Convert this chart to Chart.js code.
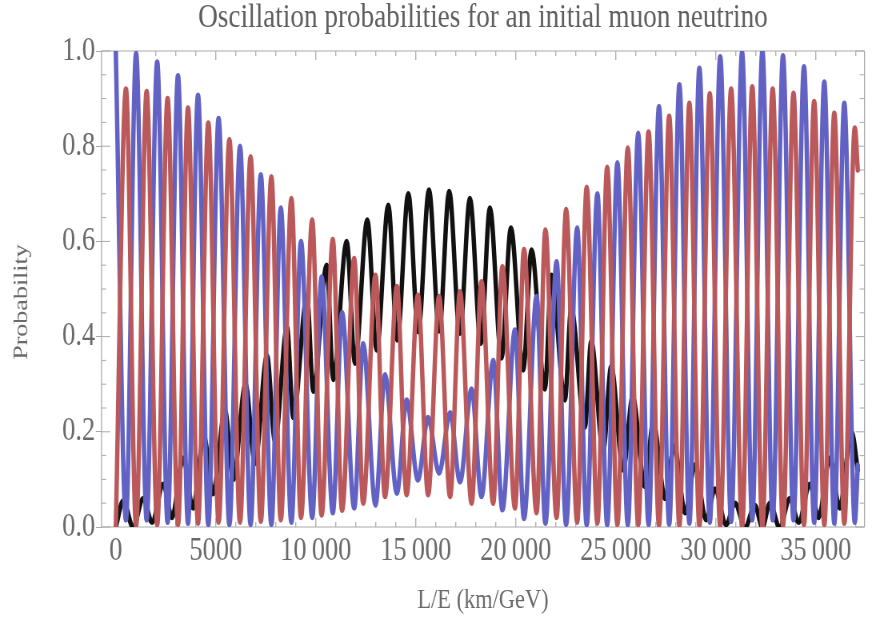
<!DOCTYPE html>
<html><head><meta charset="utf-8">
<script src="https://cdn.jsdelivr.net/npm/chart.js@4/dist/chart.umd.min.js"></script>
<style>
html,body{margin:0;padding:0;background:#fff;overflow:hidden;width:872px;height:618px;}
#wrap{position:absolute;left:0;top:0;width:1090px;height:618px;transform:scale(0.8,1);transform-origin:0 0;}
</style></head><body>
<div id="wrap"><canvas id="c" width="1090" height="618"></canvas></div>
<script>
// L/E grid (km/GeV) shared by the muon and tau curves (their peaks and troughs)
const lOverE = [0,508,1015,1543,2070,2590,3110,3610,4110,4625,5140,5680,6210,6740,7250,7780,8250,8780,9260,9820,10290,10850,11315,11920,12370,12985,13460,14055,14540,15105,15615,16165,16715,17210,17790,18285,18870,19330,19960,20410,21040,21480,22040,22515,23070,23545,24080,24570,25080,25600,26120,26640,27160,27670,28180,28680,29180,29700,30220,30768,31315,31823,32330,32845,33360,33885,34410,34918,35425,35925,36425,36950,37100];
// P(nu_mu -> nu_mu)  (blue)
const pMuMu = [1.0,0.015,0.995,0.015,0.977,0.01,0.948,0.008,0.907,0.005,0.858,0.005,0.80,0.005,0.74,0.005,0.67,0.01,0.60,0.02,0.525,0.03,0.45,0.04,0.385,0.046,0.32,0.071,0.267,0.099,0.23,0.113,0.24,0.095,0.29,0.064,0.35,0.036,0.414,0.018,0.484,0.008,0.557,0.005,0.628,0.004,0.70,0.004,0.765,0.004,0.827,0.005,0.883,0.006,0.929,0.008,0.964,0.01,0.988,0.012,0.997,0.015,1.0,0.015,0.99,0.015,0.967,0.01,0.935,0.008,0.89,0.01,0.13];
// P(nu_mu -> nu_tau)  (red)
const pMuTau = [0,0.92,0.003,0.915,0.005,0.90,0.005,0.88,0.008,0.849,0.01,0.814,0.01,0.778,0.012,0.736,0.015,0.69,0.02,0.645,0.025,0.604,0.035,0.564,0.05,0.529,0.064,0.505,0.068,0.487,0.068,0.484,0.064,0.494,0.05,0.515,0.05,0.547,0.04,0.583,0.03,0.624,0.02,0.667,0.01,0.714,0.008,0.756,0.005,0.796,0.005,0.83,0.004,0.863,0.003,0.89,0.003,0.91,0.002,0.92,0.001,0.925,0,0.92,0.003,0.911,0.005,0.894,0.005,0.869,0.008,0.838,0.75];
// P(nu_mu -> nu_e)  (black): its own peaks and troughs
const lOverEElectron = [0,375,860,1375,1810,2375,2810,3375,3860,4410,4860,5460,5875,6485,6960,7560,7960,8560,8875,9560,9875,10545,10875,11545,11960,12575,13045,13625,14075,14625,15125,15660,16170,16670,17205,17705,18255,18705,19285,19755,20370,20785,21455,21785,22455,22770,23455,23770,24370,24770,25370,25845,26455,26870,27470,27920,28470,28955,29520,29955,30520,30955,31470,31955,32330,32705,33190,33705,34140,34705,35140,35705,36190,36790,37100];
const pMuE = [0,0.055,0,0.06,0.01,0.09,0.02,0.145,0.04,0.19,0.07,0.245,0.10,0.30,0.134,0.36,0.18,0.42,0.23,0.485,0.285,0.55,0.31,0.60,0.344,0.645,0.372,0.676,0.393,0.70,0.41,0.708,0.412,0.705,0.407,0.69,0.386,0.67,0.355,0.628,0.33,0.582,0.29,0.529,0.267,0.46,0.21,0.39,0.16,0.337,0.12,0.274,0.085,0.22,0.06,0.17,0.03,0.13,0.015,0.08,0.005,0.05,0,0.045,0,0.05,0,0.06,0.01,0.09,0.02,0.145,0.04,0.2,0.12];

const xTickValues = [0,5000,10000,15000,20000,25000,30000,35000];
const xTickLabels = ["0","5000","10\u2009000","15\u2009000","20\u2009000","25\u2009000","30\u2009000","35\u2009000"];
const yTickValues = [0,0.2,0.4,0.6,0.8,1.0];
const yTickLabels = ["0.0","0.2","0.4","0.6","0.8","1.0"];
const X_MINOR_STEP = 1000, X_MAJOR_STEP = 5000, Y_MINOR_STEP = 0.05;

const SERIF = "'Liberation Serif','Times New Roman',serif";
const SQ = 0.8; // horizontal squeeze applied by CSS

const frameTicks = {
  id: 'frameTicks',
  beforeDatasetsDraw(chart) {
    const {ctx, chartArea: a, scales} = chart;
    const xs = scales.x, ys = scales.y;
    ctx.save();
    ctx.strokeStyle = '#a9a9a9';
    const seg = (x1, y1, x2, y2, w) => { ctx.lineWidth = w; ctx.beginPath(); ctx.moveTo(x1, y1); ctx.lineTo(x2, y2); ctx.stroke(); };
    seg(a.left, a.top, a.right, a.top, 1);
    seg(a.left, a.bottom, a.right, a.bottom, 1);
    seg(a.left, a.top, a.left, a.bottom, 1 / SQ);
    seg(a.right, a.top, a.right, a.bottom, 1 / SQ);
    for (let v = 0; v <= xs.max; v += X_MINOR_STEP) {
      const p = xs.getPixelForValue(v);
      const len = (v % X_MAJOR_STEP === 0) ? 9 : 5;
      seg(p, a.bottom, p, a.bottom - len, 1 / SQ);
      seg(p, a.top, p, a.top + len, 1 / SQ);
    }
    const n = Math.round(1 / Y_MINOR_STEP);
    for (let i = 0; i <= n; i++) {
      const p = ys.getPixelForValue(i * Y_MINOR_STEP);
      const len = (i % 4 === 0) ? 11 : 6;
      seg(a.left, p, a.left + len, p, 1);
      seg(a.right, p, a.right - len, p, 1);
    }
    ctx.restore();
  }
};

const mk = (xs, ys) => xs.map((x, i) => ({x: x, y: ys[i]}));

new Chart(document.getElementById('c'), {
  type: 'line',
  data: {
    datasets: [
      {label: 'P(νμ→ντ)', data: mk(lOverE, pMuTau), borderColor: 'rgb(186,88,90)', order: 0},
      {label: 'P(νμ→νμ)', data: mk(lOverE, pMuMu), borderColor: 'rgb(98,98,196)', order: 1},
      {label: 'P(νμ→νe)', data: mk(lOverEElectron, pMuE), borderColor: '#111111', order: 2}
    ]
  },
  options: {
    responsive: false,
    animation: false,
    events: [],
    devicePixelRatio: 1,
    layout: {padding: {left: 0, right: 9.375, top: 0, bottom: 0}},
    elements: {
      line: {borderWidth: 5.5, cubicInterpolationMode: 'monotone', fill: false, borderCapStyle: 'round', borderJoinStyle: 'round'},
      point: {radius: 0}
    },
    plugins: {
      legend: {display: false},
      tooltip: {enabled: false},
      title: {
        display: true,
        fullSize: false,
        text: 'Oscillation probabilities for an initial muon neutrino',
        color: '#5e5e5e',
        font: {family: SERIF, size: 34, weight: 'normal', lineHeight: 1.0},
        padding: {top: 1, bottom: 16}
      }
    },
    scales: {
      x: {
        type: 'linear',
        min: -715, max: 37435,
        afterBuildTicks: s => { s.ticks = xTickValues.map(v => ({value: v})); },
        afterFit: s => { s.height = 91; },
        ticks: {
          callback: (v, i) => xTickLabels[i],
          color: '#6a6a6a',
          font: {family: SERIF, size: 33},
          padding: 5, autoSkip: false, maxRotation: 0
        },
        grid: {display: false, drawTicks: false},
        border: {display: false},
        title: {
          display: true, text: 'L/E (km/GeV)', color: '#6a6a6a',
          font: {family: SERIF, size: 28}, padding: {top: 0, bottom: 1}
        }
      },
      y: {
        type: 'linear',
        min: 0, max: 1,
        afterBuildTicks: s => { s.ticks = yTickValues.map(v => ({value: v})); },
        afterFit: s => { s.width = 126.875; },
        ticks: {
          callback: (v, i) => yTickLabels[i],
          color: '#6a6a6a',
          font: {family: SERIF, size: 33},
          padding: 1
        },
        grid: {drawOnChartArea: false, drawTicks: true, tickLength: 7, color: '#a9a9a9', lineWidth: 1},
        border: {display: false},
        title: {
          display: true, text: 'Probability\u2003', color: '#6a6a6a',
          font: {family: SERIF, size: 26}, padding: {top: 12, bottom: 0}
        }
      }
    }
  },
  plugins: [frameTicks]
});
</script>
</body></html>
